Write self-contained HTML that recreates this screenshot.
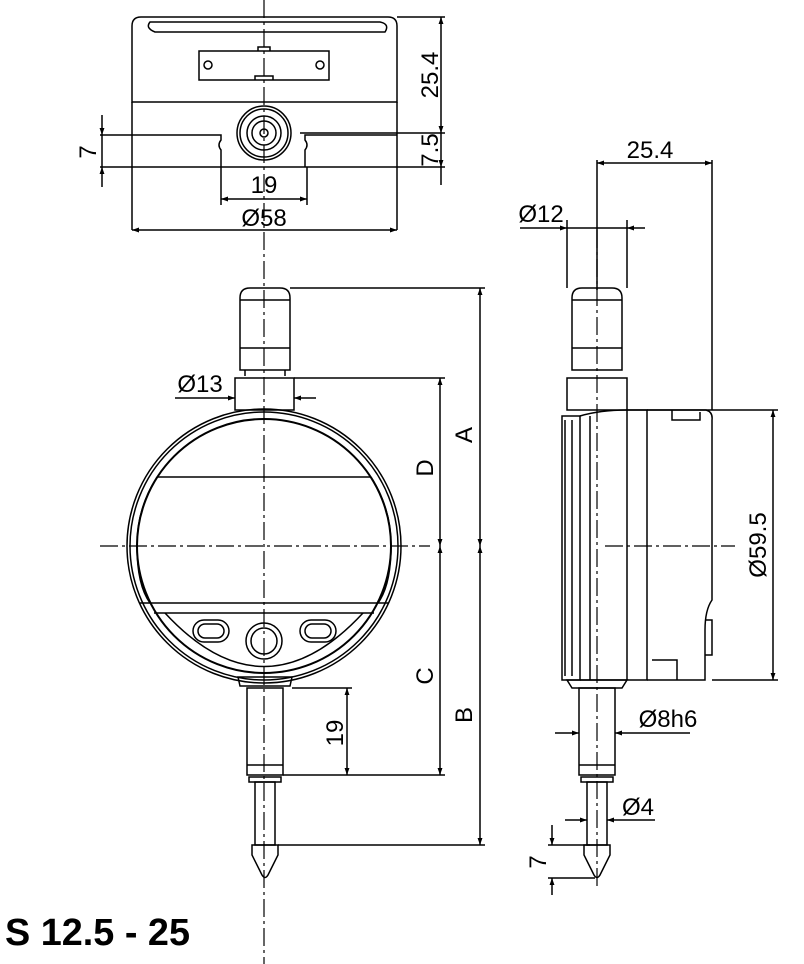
<!DOCTYPE html>
<html><head><meta charset="utf-8"><style>
html,body{margin:0;padding:0;background:#fff;}
svg{display:block;}
text{font-family:"Liberation Sans",sans-serif;fill:#000;}
</style></head><body>
<svg width="804" height="964" viewBox="0 0 804 964" xmlns="http://www.w3.org/2000/svg">
<defs>
<marker id="a" viewBox="0 0 10 10" refX="10" refY="5" markerWidth="11" markerHeight="7" orient="auto-start-reverse" markerUnits="userSpaceOnUse"><path d="M0,1.5 L10,5 L0,8.5 z" fill="#000"/></marker>
</defs>
<g fill="none" stroke="#000" stroke-width="1.5">
<!-- TOP VIEW -->
<path d="M132,102 L132,26 Q132,17 141,17 L388,17 Q397,17 397,26 L397,102 Z"/>
<path d="M150,22 L380,22 Q390,24 385,32 L155,32 Q145,28 150,22 Z"/>
<rect x="199" y="51" width="130" height="29"/>
<circle cx="208" cy="65" r="4"/><circle cx="320" cy="65" r="4"/>
<path d="M258,51 v-4 h12 v4 M255,80 v-4 h18 v4"/>
<path d="M132,102 V230 M397,102 V230"/>
<path d="M100,135 H221 v5 q-4,5 0,10 v17 M305,167 v-17 q4,-5 0,-10 v-5 H397"/>
<path d="M100,167 H445"/>
<path d="M221,167 V205 M307,167 V205"/>
<circle cx="264" cy="133" r="27"/><circle cx="264" cy="133" r="24"/><circle cx="264" cy="133" r="17"/><circle cx="264" cy="133" r="12"/><circle cx="264" cy="133" r="4"/>
<path d="M397,17 H445 M300,133 H445" />
<path d="M441,17 V133" marker-start="url(#a)" marker-end="url(#a)"/>
<path d="M441,133 V167" marker-end="url(#a)"/>
<path d="M441,167 V185"/>
<path d="M221,199 H307" marker-start="url(#a)" marker-end="url(#a)"/>
<path d="M132,230 H397" marker-start="url(#a)" marker-end="url(#a)"/>
<path d="M102,115 V135" marker-end="url(#a)"/><path d="M102,187 V167" marker-end="url(#a)"/><path d="M102,135 V167"/>
<!-- FRONT VIEW -->
<path d="M240,370 V298 Q240,288 250,288 H280 Q290,288 290,298 V370 Z"/>
<path d="M240,300 H290 M240,348 H290 M245,370 V376 M285,370 V376"/>
<rect x="235" y="378" width="59" height="32"/>
<circle cx="264" cy="546" r="137"/><circle cx="264" cy="546" r="134"/><circle cx="264" cy="546" r="127" stroke-width="2"/>
<path d="M157,477 H371 M140,603 H388 M154,613 H374"/>
<path d="M137,546 A127,127 0 0 1 157,477 M391,546 A127,127 0 0 0 371,477"/>
<path d="M137,546 Q137,585 150,603 M391,546 Q391,585 378,603"/>
<path d="M165,613 Q264,720 363,613"/>
<rect x="193" y="620" width="36" height="22" rx="11"/><rect x="198" y="624" width="26" height="14" rx="7"/>
<rect x="300" y="620" width="36" height="22" rx="11"/><rect x="305" y="624" width="26" height="14" rx="7"/>
<circle cx="264" cy="641" r="18"/><circle cx="264" cy="641" r="13"/>
<path d="M238,677 H292 L290,686 H240 Z"/>
<rect x="247" y="688" width="36" height="87"/><path d="M247,765 H283"/>
<rect x="249" y="777" width="32" height="5"/>
<rect x="255" y="782" width="20" height="63"/>
<path d="M252,845 H278 V855 L268,875 Q265,880 262,875 L252,855 Z"/>
<path d="M290,288 H485 M294,378 H445 M292,688 H352 M283,775 H445 M278,845 H485"/>
<path d="M480,288 V546" marker-start="url(#a)" marker-end="url(#a)"/>
<path d="M480,546 V845" marker-start="url(#a)" marker-end="url(#a)"/>
<path d="M440,378 V546" marker-start="url(#a)" marker-end="url(#a)"/>
<path d="M440,546 V775" marker-start="url(#a)" marker-end="url(#a)"/>
<path d="M347,688 V775" marker-start="url(#a)" marker-end="url(#a)"/>
<path d="M175,398 H235" marker-end="url(#a)"/><path d="M316,398 H294" marker-end="url(#a)"/>
<!-- SIDE VIEW -->
<path d="M572,370 V298 Q572,288 582,288 H612 Q622,288 622,298 V370 Z"/>
<path d="M572,300 H622 M572,348 H622"/>
<rect x="567" y="378" width="60" height="32"/>
<path d="M562,416 H580 V680 H562 Z M565,420 V676 M572,420 V676 M590,416 V680"/>
<path d="M580,416 Q600,410 627,410 M580,680 H627"/>
<rect x="627" y="410" width="20" height="270"/>
<path d="M647,410 H706 Q713,412 712,420 V600 Q705,610 705,630 V680 H647"/>
<path d="M672,410 V420 H700 V412 M652,660 H677 V680"/>
<path d="M705,620 H712 V655 H705"/>
<path d="M567,680 H627 L622,688 H572 Z"/>
<rect x="579" y="688" width="36" height="87"/><path d="M579,765 H615"/>
<rect x="581" y="777" width="32" height="5"/>
<rect x="587" y="782" width="20" height="63"/>
<path d="M584,845 H610 V855 L600,875 Q597,880 594,875 L584,855 Z"/>
<path d="M627,410 H778 M712,680 H778 M712,160 V410 M597,160 V290"/>
<path d="M773,410 V680" marker-start="url(#a)" marker-end="url(#a)"/>
<path d="M597,163 H712" marker-start="url(#a)" marker-end="url(#a)"/>
<path d="M567,220 V288 M627,220 V288"/>
<path d="M520,228 H567" marker-end="url(#a)"/><path d="M567,228 H627"/><path d="M645,228 H627" marker-end="url(#a)"/>
<path d="M555,733 H579" marker-end="url(#a)"/><path d="M690,733 H615" marker-end="url(#a)"/>
<path d="M565,820 H587" marker-end="url(#a)"/><path d="M655,820 H607" marker-end="url(#a)"/>
<path d="M548,845 H590 M548,878 H595"/>
<path d="M552,825 V845" marker-end="url(#a)"/><path d="M552,895 V878" marker-end="url(#a)"/>
</g>
<!-- center lines -->
<g fill="none" stroke="#000" stroke-width="1.2" stroke-dasharray="18,4,3,4">
<path d="M264,0 V964"/>
<path d="M100,546 H430"/>
<path d="M597,230 V890"/>
<path d="M605,546 H735"/>
</g>
<!-- labels -->
<g font-size="24">
<text x="264" y="193" text-anchor="middle">19</text>
<text x="264" y="226" text-anchor="middle">Ø58</text>
<text x="200" y="392" text-anchor="middle">Ø13</text>
<text x="541" y="222" text-anchor="middle">Ø12</text>
<text x="650" y="158" text-anchor="middle">25.4</text>
<text x="668" y="727" text-anchor="middle">Ø8h6</text>
<text x="638" y="815" text-anchor="middle">Ø4</text>
<text transform="translate(438,75) rotate(-90)" text-anchor="middle">25.4</text>
<text transform="translate(438,150) rotate(-90)" text-anchor="middle">7.5</text>
<text transform="translate(96,152) rotate(-90)" text-anchor="middle">7</text>
<text transform="translate(472,435) rotate(-90)" text-anchor="middle">A</text>
<text transform="translate(433,468) rotate(-90)" text-anchor="middle">D</text>
<text transform="translate(433,676) rotate(-90)" text-anchor="middle">C</text>
<text transform="translate(472,715) rotate(-90)" text-anchor="middle">B</text>
<text transform="translate(343,733) rotate(-90)" text-anchor="middle">19</text>
<text transform="translate(766,545) rotate(-90)" text-anchor="middle">Ø59.5</text>
<text transform="translate(546,862) rotate(-90)" text-anchor="middle">7</text>
</g>
<text x="5" y="945" font-size="38" font-weight="bold" textLength="185" lengthAdjust="spacingAndGlyphs">S 12.5 - 25</text>
</svg>
</body></html>
